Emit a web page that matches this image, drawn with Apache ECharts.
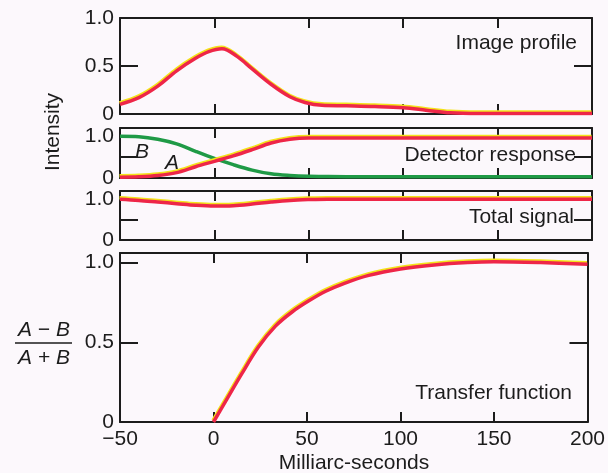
<!DOCTYPE html>
<html>
<head>
<meta charset="utf-8">
<script src="https://cdn.jsdelivr.net/npm/echarts@6/dist/echarts.min.js"></script>
<style>
  html, body { margin: 0; padding: 0; background: #fcf8fc; }
  #chart { width: 608px; height: 473px; }
</style>
</head>
<body>
<div id="chart"></div>
<script>
// 数据
var xTicks = [-50, 0, 50, 100, 150, 200];

var profileX = [-50, -40, -30, -20, -10, -3, 4, 12, 20, 30, 40, 48, 57, 70, 85, 100, 112, 125, 140, 200];
var profileY = [0.10, 0.17, 0.29, 0.45, 0.58, 0.65, 0.68, 0.60, 0.47, 0.31, 0.18, 0.12, 0.09, 0.085, 0.078, 0.065, 0.04, 0.012, 0.005, 0.005];

var detX = [-50, -40, -30, -20, -10, 0, 10, 20, 30, 40, 50, 60, 80, 100, 150, 200];
var detA = [0.02, 0.03, 0.06, 0.13, 0.27, 0.40, 0.53, 0.68, 0.84, 0.93, 0.96, 0.96, 0.96, 0.96, 0.96, 0.96];
var detB = [1.0, 0.99, 0.93, 0.82, 0.64, 0.47, 0.32, 0.19, 0.10, 0.06, 0.04, 0.035, 0.03, 0.03, 0.03, 0.03];
var totalY = [1.0, 0.97, 0.93, 0.89, 0.85, 0.83, 0.84, 0.88, 0.93, 0.97, 0.99, 1.0, 1.0, 1.0, 1.0, 1.0];

var transX = [0, 7, 15, 24, 33, 42, 51, 60, 70, 83, 100, 118, 136, 150, 175, 200];
var transY = [0, 0.14, 0.30, 0.47, 0.60, 0.69, 0.76, 0.82, 0.87, 0.92, 0.96, 0.985, 1.0, 1.005, 1.0, 0.99];

var panelLabels = ["Image profile", "Detector response", "Total signal", "Transfer function"];
var yLabelSets = [
  { 0: "0", 0.5: "0.5", 1: "1.0" },
  { 0: "0", 1: "1.0" },
  { 0: "0", 1: "1.0" },
  { 0: "0", 0.5: "0.5", 1: "1.0" }
];
var yMax = [1.0, 1.2, 1.2, 1.06];

// 布局
var INK = "#1c1c1c";
var RED = "#ee2648";
var GREEN = "#1f9a46";
var FONT = "Liberation Sans, Arial, sans-serif";
var grids = [
  { left: 120, right: 16, top: 18, height: 96 },
  { left: 120, right: 16, top: 128, height: 50 },
  { left: 120, right: 16, top: 191, height: 49 },
  { left: 120, right: 16, top: 253, height: 169 }
];

function pairs(xs, ys) {
  return xs.map(function (x, i) { return [x, ys[i]]; });
}

var xAxes = [], yAxes = [];
grids.forEach(function (g, i) {
  var line = { show: true, onZero: false, lineStyle: { color: INK, width: 2 } };
  ["bottom", "top"].forEach(function (pos) {
    xAxes.push({
      gridIndex: i, type: "value", position: pos,
      min: -50, max: 200, interval: 50,
      axisLine: line,
      axisTick: { show: true, inside: true, length: 10, lineStyle: { color: INK, width: 2 } },
      axisLabel: {
        show: pos === "bottom" && i === 3,
        color: INK, fontSize: 21, fontFamily: FONT, margin: 7,
        formatter: function (v) { return v < 0 ? "\u2212" + Math.abs(v) : String(v); }
      },
      splitLine: { show: false }
    });
  });
  ["left", "right"].forEach(function (pos) {
    yAxes.push({
      gridIndex: i, type: "value", position: pos,
      min: 0, max: yMax[i], interval: 0.5,
      axisLine: line,
      axisTick: { show: true, inside: true, length: 18, lineStyle: { color: INK, width: 2 } },
      axisLabel: {
        show: pos === "left",
        color: INK, fontSize: 21, fontFamily: FONT, margin: 6,
        formatter: function (v) { var s = yLabelSets[i][v]; return s == null ? "" : s; }
      },
      splitLine: { show: false }
    });
  });
});

function curve(data, idx, color) {
  return {
    type: "line", xAxisIndex: idx * 2, yAxisIndex: idx * 2,
    data: data, showSymbol: false, smooth: 0.35, silent: true,
    lineStyle: {
      color: color, width: 3.5,
      shadowColor: color === RED ? "#f3e21a" : "rgba(0,0,0,0)",
      shadowBlur: 0, shadowOffsetY: -1.5, shadowOffsetX: -0.5
    }
  };
}

var series = [
  curve(pairs(profileX, profileY), 0, RED),
  curve(pairs(detX, detB), 1, GREEN),
  curve(pairs(detX, detA), 1, RED),
  curve(pairs(detX, totalY), 2, RED),
  curve(pairs(transX, transY), 3, RED)
];

var textStyle = { fill: INK, fontSize: 21, fontFamily: FONT };
function txt(x, y, s, align, extra) {
  var st = Object.assign({ text: s, align: align || "center", verticalAlign: "middle" }, textStyle, extra || {});
  return { type: "text", x: x, y: y, style: st, silent: true };
}

var labelPos = [[577, 43], [576, 155], [574, 217], [572, 393]];
var graphic = panelLabels.map(function (s, i) {
  return txt(labelPos[i][0], labelPos[i][1], s, "right");
});
graphic.push(txt(142, 152, "B", "center", { fontStyle: "italic" }));
graphic.push(txt(172, 163, "A", "center", { fontStyle: "italic" }));
graphic.push(txt(354, 463, "Milliarc-seconds"));
graphic.push({ type: "text", x: 53, y: 132, rotation: Math.PI / 2, silent: true,
  style: Object.assign({ text: "Intensity", align: "center", verticalAlign: "middle" }, textStyle) });
graphic.push(txt(44, 330, "A \u2212 B", "center", { fontStyle: "italic" }));
graphic.push(txt(44, 358, "A + B", "center", { fontStyle: "italic" }));
graphic.push({ type: "line", silent: true, shape: { x1: 15, y1: 343, x2: 72, y2: 343 },
  style: { stroke: INK, lineWidth: 1.5 } });

var chart = echarts.init(document.getElementById("chart"));
chart.setOption({
  backgroundColor: "#fcf8fc",
  animation: false,
  grid: grids,
  xAxis: xAxes,
  yAxis: yAxes,
  series: series,
  graphic: graphic
});
</script>
</body>
</html>
